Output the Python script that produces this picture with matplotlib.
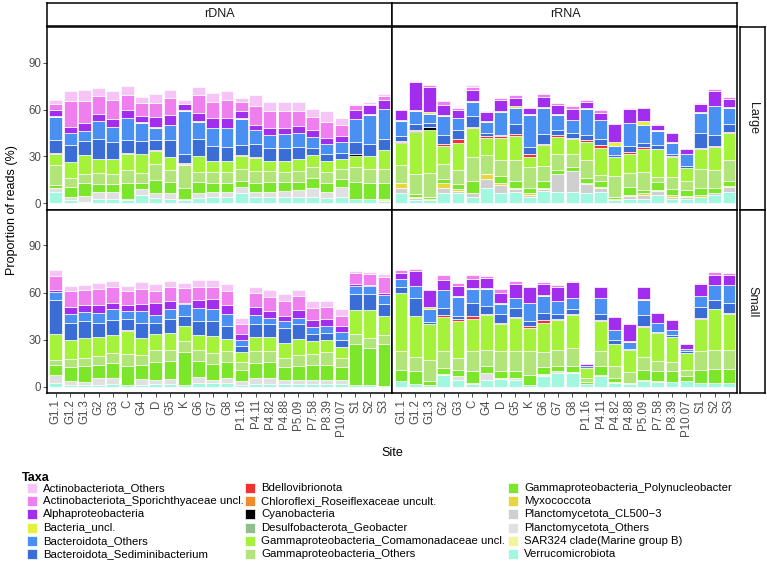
import numpy as np
import matplotlib.pyplot as plt
from matplotlib.patches import Rectangle

plt.rcParams['font.family'] = ['Liberation Sans', 'DejaVu Sans']

sites = ["G1.1", "G1.2", "G1.3", "G2", "G3", "C", "G4", "D", "G5", "K", "G6", "G7",
         "G8", "P1.16", "P4.11", "P4.82", "P4.88", "P5.09", "P7.58", "P8.39", "P10.07",
         "S1", "S2", "S3"]

# legend order (top of the stack first)
taxa = ["Actinobacteriota_Others", "Actinobacteriota_Sporichthyaceae uncl.",
        "Alphaproteobacteria", "Bacteria_uncl.", "Bacteroidota_Others",
        "Bacteroidota_Sediminibacterium", "Bdellovibrionota",
        "Chloroflexi_Roseiflexaceae uncult.", "Cyanobacteria", "Desulfobacterota_Geobacter",
        "Gammaproteobacteria_Comamonadaceae uncl.", "Gammaproteobacteria_Others",
        "Gammaproteobacteria_Polynucleobacter", "Myxococcota", "Planctomycetota_CL500\u22123",
        "Planctomycetota_Others", "SAR324 clade(Marine group B)", "Verrucomicrobiota"]

taxa_colors = ["#F6C4F6", "#EF7EEF", "#A22DEE", "#E2F23C", "#4A8FF2", "#3A6ED6",
               "#F23131", "#F08C2C", "#000000", "#8FBF8F", "#A4F23A", "#B1E57A",
               "#7BE62A", "#E9D63E", "#CFCFCF", "#E0E0E0", "#F1F59C", "#A2F7E0"]

# values in % of reads, per taxon, one value per site
dna_large = {
    "Verrucomicrobiota": [7.4, 2.1, 1.1, 2.8, 2.6, 2.1, 5.3, 3.2, 2.6, 2.1, 3.2, 4.3, 4.3, 6.8, 3.8, 3.8, 3.8, 3.8, 3.8, 3.2, 4.3, 2.8, 2.8, 1.7],
    "SAR324 clade(Marine group B)": [0] * 21 + [0.3, 0, 1.0],
    "Planctomycetota_Others": [2.2, 2.2, 3.6, 4.6, 4.6, 0.7, 3.6, 3.2, 3.8, 0.5, 3.6, 3.1, 3.1, 3.4, 3.6, 3.6, 4.3, 4.7, 6.2, 4.2, 5.9, 0, 0, 0],
    "Gammaproteobacteria_Polynucleobacter": [2.1, 6.3, 8.1, 4.9, 5.1, 10.0, 4.3, 8.5, 7.0, 7.0, 7.0, 5.4, 5.8, 4.1, 5.4, 6.0, 5.7, 4.9, 6.4, 5.8, 5.3, 10.7, 10.0, 10.5],
    "Gammaproteobacteria_Others": [12.8, 5.8, 6.3, 7.3, 6.8, 8.5, 6.4, 10.2, 7.9, 15.0, 6.4, 7.4, 7.0, 8.0, 8.1, 7.5, 6.4, 7.5, 7.0, 7.0, 6.8, 9.6, 9.5, 9.1],
    "Gammaproteobacteria_Comamonadaceae uncl.": [7.4, 10.2, 12.0, 8.5, 9.0, 10.6, 11.9, 8.5, 8.5, 0.5, 10.0, 7.0, 7.0, 8.3, 8.2, 6.3, 6.6, 7.2, 7.5, 6.6, 5.8, 7.2, 8.3, 11.7],
    "Cyanobacteria": [0] * 21 + [0.9, 0, 0],
    "Bdellovibrionota": [0.6, 0, 0, 0, 0, 0.4, 0, 0.4, 0, 0.9, 0, 0, 0, 0.3, 0.4, 0, 0, 0, 0, 0, 0, 0, 0, 0],
    "Bacteroidota_Sediminibacterium": [7.9, 10.6, 8.9, 13.0, 11.3, 8.1, 8.5, 6.4, 10.6, 5.3, 11.3, 9.4, 9.0, 6.3, 8.4, 8.5, 8.7, 8.1, 4.8, 5.1, 4.2, 7.9, 7.7, 7.5],
    "Bacteroidota_Others": [14.9, 7.7, 6.4, 11.7, 9.7, 14.5, 11.5, 8.1, 9.6, 27.8, 10.7, 11.9, 12.1, 17.0, 8.9, 7.9, 8.8, 8.5, 6.9, 6.0, 6.8, 14.4, 18.3, 19.1],
    "Bacteria_uncl.": [0.4, 0, 0, 0, 0, 0, 0.4, 0.4, 0, 0.5, 0.4, 0, 0, 0.4, 0, 0, 0, 0, 0, 0, 0, 0, 0.3, 0],
    "Alphaproteobacteria": [4.3, 4.0, 5.1, 4.6, 4.7, 4.7, 4.1, 6.4, 6.8, 3.8, 5.5, 5.8, 6.0, 4.2, 3.2, 4.7, 4.0, 4.7, 4.6, 4.0, 4.1, 5.8, 5.9, 5.4],
    "Actinobacteriota_Sporichthyaceae uncl.": [3.8, 16.4, 14.2, 11.1, 12.2, 9.8, 8.5, 8.6, 10.6, 0.4, 11.3, 10.6, 11.7, 5.8, 12.1, 10.8, 10.8, 9.7, 8.1, 10.2, 6.8, 3.2, 1.0, 2.5],
    "Actinobacteriota_Others": [2.2, 6.6, 6.6, 5.1, 5.7, 5.5, 3.6, 6.3, 5.4, 2.2, 5.1, 5.7, 5.7, 2.5, 7.0, 5.8, 5.6, 5.6, 5.1, 7.3, 4.9, 1.0, 1.3, 1.5],
}

rna_large = {
    "Verrucomicrobiota": [6.4, 2.1, 2.1, 6.8, 6.8, 4.3, 9.6, 6.4, 7.4, 4.3, 8.1, 7.4, 7.4, 6.4, 7.4, 2.1, 2.6, 2.6, 5.3, 2.6, 2.6, 4.3, 5.3, 7.4],
    "Planctomycetota_CL500\u22123": [3.2, 1.1, 0.3, 3.2, 1.3, 2.1, 5.7, 5.3, 2.0, 1.0, 1.0, 11.1, 13.5, 5.7, 2.2, 0, 2.1, 2.7, 2.6, 1.7, 1.2, 0, 1.5, 2.8],
    "Myxococcota": [3.2, 0.6, 0.6, 2.8, 0.9, 0, 3.4, 1.1, 0.6, 1.1, 0.9, 0.6, 0, 1.1, 0.6, 0.7, 0.6, 1.1, 0.6, 1.0, 0.9, 1.0, 0, 0.8],
    "Gammaproteobacteria_Polynucleobacter": [0.5, 2.2, 1.0, 2.5, 3.3, 7.9, 0, 4.6, 4.3, 3.2, 4.3, 2.2, 2.5, 3.2, 4.1, 1.0, 5.3, 2.1, 4.9, 3.6, 3.8, 4.7, 3.2, 3.3],
    "Gammaproteobacteria_Others": [11.2, 13.1, 15.5, 9.8, 9.0, 15.1, 12.2, 10.3, 13.4, 13.8, 9.7, 10.6, 8.5, 11.3, 3.8, 13.6, 9.0, 11.7, 3.6, 8.1, 5.8, 11.7, 11.3, 13.4],
    "Gammaproteobacteria_Comamonadaceae uncl.": [14.2, 26.4, 27.7, 11.5, 17.6, 18.7, 11.2, 14.4, 15.7, 6.4, 13.2, 10.7, 9.6, 11.7, 17.6, 12.0, 12.3, 14.3, 17.5, 12.8, 8.5, 13.0, 14.9, 17.0],
    "Cyanobacteria": [0.6, 0.6, 1.5] + [0] * 21,
    "Bdellovibrionota": [0.8, 0.6, 0, 1.1, 2.2, 0.8, 1.3, 0.9, 0.9, 2.1, 1.0, 1.0, 0.6, 1.0, 1.5, 0.4, 1.1, 1.7, 0.6, 0.6, 0, 0.8, 0.5, 1.0],
    "Bacteroidota_Sediminibacterium": [2.7, 3.9, 2.7, 5.9, 5.7, 6.8, 1.3, 0.6, 6.3, 4.3, 6.4, 3.2, 3.0, 3.6, 4.3, 1.1, 3.6, 2.5, 2.1, 0.9, 1.2, 9.2, 7.0, 4.9],
    "Bacteroidota_Others": [10.2, 8.3, 5.6, 12.4, 7.5, 9.0, 7.4, 14.9, 10.7, 20.2, 16.6, 9.6, 8.1, 16.2, 11.7, 5.7, 14.5, 11.3, 9.2, 7.4, 7.3, 13.2, 18.5, 10.7],
    "Bacteria_uncl.": [0.4, 1.1, 1.2, 0.3, 0.5, 0.6, 0.3, 0.6, 0.8, 1.0, 0.5, 0.6, 0.4, 0.6, 0.4, 2.8, 0.4, 2.6, 0.4, 0.6, 0.2, 0.4, 0.4, 0.5],
    "Alphaproteobacteria": [6.4, 17.7, 16.4, 6.5, 4.8, 7.5, 5.9, 6.9, 5.6, 3.9, 6.3, 5.8, 7.0, 4.1, 4.3, 11.2, 8.7, 8.7, 3.6, 5.4, 3.6, 5.5, 9.4, 5.2],
    "Actinobacteriota_Sporichthyaceae uncl.": [0, 0.6, 1.1, 2.5, 1.7, 1.6, 0.8, 1.7, 1.3, 0, 2.1, 1.7, 1.5, 1.1, 1.7, 0, 0.5, 0, 0.6, 0, 0, 0.4, 0.9, 1.1],
    "Actinobacteriota_Others": [0, 0.4, 0, 0, 0, 1.1] + [0] * 18,
}

dna_small = {
    "Verrucomicrobiota": [2.4, 1.3, 1.3, 1.3, 1.7, 1.3, 1.3, 1.7, 1.7, 1.3, 2.4, 2.4, 2.4, 1.3, 1.7, 1.7, 1.7, 1.7, 1.7, 1.7, 1.7, 1.3, 1.3, 0.6],
    "Planctomycetota_Others": [4.9, 2.5, 2.1, 4.3, 3.9, 0, 3.8, 2.8, 3.2, 0, 3.6, 2.1, 3.2, 2.6, 3.9, 3.9, 2.4, 2.8, 2.8, 2.8, 2.8, 0, 0, 0],
    "Gammaproteobacteria_Polynucleobacter": [6.4, 8.6, 9.6, 8.5, 9.6, 12.2, 9.0, 11.3, 11.8, 20.9, 10.7, 10.2, 10.2, 7.1, 9.6, 10.2, 8.5, 9.0, 9.6, 9.6, 7.9, 26.1, 23.5, 26.8],
    "Gammaproteobacteria_Others": [3.6, 5.5, 5.4, 5.3, 6.4, 7.4, 6.4, 7.9, 7.0, 6.9, 7.0, 6.9, 6.8, 4.9, 7.4, 6.8, 5.8, 7.0, 6.8, 8.1, 6.0, 6.4, 6.0, 5.9],
    "Gammaproteobacteria_Comamonadaceae uncl.": [16.5, 12.2, 12.8, 12.2, 11.7, 14.6, 10.7, 10.1, 10.7, 9.6, 9.2, 10.7, 8.0, 6.2, 9.0, 9.0, 9.6, 10.1, 8.2, 7.9, 6.8, 14.9, 17.9, 11.8],
    "Bdellovibrionota": [0, 0, 0, 0, 0, 0.4, 0, 0, 0, 0, 0.4] + [0] * 13,
    "Bacteroidota_Sediminibacterium": [21.3, 10.7, 10.7, 9.2, 9.0, 7.1, 9.6, 7.0, 8.5, 6.4, 8.6, 9.6, 8.1, 3.9, 8.1, 8.1, 9.2, 9.1, 4.7, 4.3, 4.9, 10.3, 10.3, 7.5],
    "Bacteroidota_Others": [5.4, 5.8, 5.7, 6.4, 7.1, 5.3, 7.5, 4.7, 6.9, 7.5, 8.1, 7.5, 7.9, 3.6, 6.0, 4.3, 4.7, 4.3, 4.2, 4.3, 4.7, 5.3, 5.3, 5.7],
    "Alphaproteobacteria": [1.0, 4.3, 4.3, 4.7, 4.2, 3.8, 4.7, 8.1, 4.9, 1.0, 5.1, 6.4, 5.3, 4.3, 5.2, 4.3, 3.2, 4.7, 4.3, 4.2, 3.9, 1.1, 0.6, 1.1],
    "Actinobacteriota_Sporichthyaceae uncl.": [9.2, 9.8, 9.6, 10.3, 9.6, 8.6, 9.2, 7.5, 8.5, 9.0, 8.6, 7.9, 8.8, 5.9, 8.5, 9.0, 9.6, 9.2, 8.1, 8.0, 6.4, 7.0, 6.9, 10.7],
    "Actinobacteriota_Others": [3.7, 3.6, 3.2, 3.8, 3.9, 3.6, 4.3, 4.3, 3.9, 3.2, 4.2, 4.2, 4.7, 3.7, 3.8, 4.2, 4.3, 3.6, 4.3, 3.8, 4.3, 1.5, 1.1, 1.7],
}

rna_small = {
    "Verrucomicrobiota": [3.8, 1.7, 1.3, 7.3, 4.5, 1.9, 4.5, 4.9, 4.5, 1.3, 6.6, 8.8, 8.8, 1.9, 6.6, 2.4, 1.7, 3.8, 3.4, 3.4, 3.6, 2.4, 2.4, 2.4],
    "Planctomycetota_Others": [0, 0, 0, 0, 2.1, 0, 4.3, 0, 1.1, 0, 1.1, 1.0, 0.6] + [0] * 11,
    "Myxococcota": [0, 0, 0, 0.8, 0, 0.5, 0, 0.7, 0, 0, 0.8, 0, 0, 0, 1.1, 0.6, 0.6, 0.7, 0.5, 0, 0.4, 0, 0, 0],
    "Gammaproteobacteria_Polynucleobacter": [7.1, 8.6, 2.5, 3.9, 4.3, 7.4, 4.2, 4.7, 4.7, 6.4, 4.1, 3.7, 3.6, 1.1, 5.3, 2.6, 0.3, 6.4, 6.0, 6.4, 3.1, 8.5, 9.1, 9.1],
    "Gammaproteobacteria_Others": [11.7, 8.5, 13.5, 10.6, 7.5, 12.8, 10.7, 12.3, 12.8, 15.4, 9.4, 10.2, 11.8, 2.6, 9.6, 7.4, 7.1, 7.9, 6.4, 6.0, 3.8, 11.7, 12.2, 12.2],
    "Gammaproteobacteria_Comamonadaceae uncl.": [36.8, 26.3, 22.9, 21.8, 23.5, 20.8, 22.0, 17.1, 20.9, 14.5, 18.8, 18.8, 20.9, 6.4, 19.3, 14.4, 13.5, 19.2, 17.8, 15.8, 10.7, 20.6, 25.7, 22.9],
    "Bdellovibrionota": [0, 0, 0, 1.1, 1.1, 1.7, 0.8, 0.7, 0.4, 1.1, 1.5, 0.9, 0.8, 0, 0.6, 0, 0, 0.7, 0, 0, 0, 0.8, 0, 0.6],
    "Bacteroidota_Sediminibacterium": [4.3, 11.3, 1.3, 4.9, 2.1, 8.5, 5.0, 5.8, 6.0, 3.2, 4.9, 3.2, 2.9, 0, 4.1, 2.1, 0.8, 6.8, 1.0, 1.1, 1.1, 7.1, 5.7, 6.4],
    "Bacteroidota_Others": [4.9, 7.9, 8.3, 11.1, 12.2, 8.6, 10.7, 6.8, 6.0, 11.3, 10.7, 7.7, 7.0, 1.0, 10.2, 6.4, 4.3, 9.8, 5.4, 3.6, 1.7, 6.4, 9.6, 11.1],
    "Bacteria_uncl.": [0, 0, 1.1, 0.4, 0.4, 0.4, 0.4, 0.4, 0.4, 0.4, 0.4, 0.4, 0.4, 0, 0, 0.4, 1.1, 0.4, 0.4, 0, 0, 0, 0, 0],
    "Alphaproteobacteria": [3.8, 9.6, 10.9, 6.0, 6.6, 6.0, 6.4, 6.6, 8.6, 10.1, 7.1, 8.9, 9.7, 1.7, 6.4, 8.4, 10.7, 7.5, 5.8, 6.0, 3.0, 7.9, 6.7, 6.5],
    "Actinobacteriota_Sporichthyaceae uncl.": [2.0, 1.1, 0, 3.3, 1.5, 2.8, 1.3, 2.2, 1.7, 0, 1.5, 1.5, 1.1, 0, 0, 0, 0, 0, 0, 0, 0, 0.6, 1.5, 1.0],
}

W, H = 767, 563
fig = plt.figure(figsize=(W / 100, H / 100), dpi=100)


def px_axes(x0, y0, x1, y1):
    return fig.add_axes([x0 / W, 1 - y1 / H, (x1 - x0) / W, (y1 - y0) / H])


col_x = [(47.3, 392.5), (392.5, 737.5)]
row_y = [(27, 209.5), (209.5, 393)]
panels = [[dna_large, rna_large], [dna_small, rna_small]]
col_names = ["rDNA", "rRNA"]
row_names = ["Large", "Small"]

x = np.arange(len(sites))
for r in range(2):
    for c in range(2):
        ax = px_axes(col_x[c][0], row_y[r][0], col_x[c][1], row_y[r][1])
        data = panels[r][c]
        bottom = np.zeros(len(sites))
        for name in reversed(taxa):
            vals = np.array(data.get(name, [0] * len(sites)), dtype=float)
            m = vals > 0
            if m.any():
                ax.bar(x[m], vals[m], 0.9, bottom=bottom[m],
                       color=taxa_colors[taxa.index(name)],
                       edgecolor='white', linewidth=0.5)
            bottom += vals
        ax.set_xlim(-0.6, len(sites) - 0.4)
        ax.set_ylim(-3.9, 112.8)
        for s in ax.spines.values():
            s.set_linewidth(1.1)
            s.set_color('black')
        ax.tick_params(length=3, width=0.6, color='#333333', pad=1.5,
                       labelsize=8.3, labelcolor='#4D4D4D')
        ax.set_yticks([0, 30, 60, 90])
        if c == 0:
            ax.set_yticklabels(['0', '30', '60', '90'])
        else:
            ax.tick_params(axis='y', left=False, labelleft=False)
        ax.set_xticks(x)
        if r == 1:
            ax.set_xticklabels(sites, rotation=90)
        else:
            ax.tick_params(axis='x', bottom=False, labelbottom=False)

# facet strips
for c in range(2):
    sa = px_axes(col_x[c][0], 3, col_x[c][1], 25.5)
    sa.set_xticks([])
    sa.set_yticks([])
    for s in sa.spines.values():
        s.set_linewidth(1.1)
    sa.text(0.5, 0.5, col_names[c], ha='center', va='center', fontsize=9,
            color='#1A1A1A', transform=sa.transAxes)
for r in range(2):
    sa = px_axes(740, row_y[r][0], 765, row_y[r][1])
    sa.set_xticks([])
    sa.set_yticks([])
    for s in sa.spines.values():
        s.set_linewidth(1.1)
    sa.text(0.5, 0.5, row_names[r], ha='center', va='center', fontsize=9,
            rotation=-90, color='#1A1A1A', transform=sa.transAxes)

fig.text(12 / W, 1 - 210 / H, 'Proportion of reads (%)', rotation=90,
         ha='center', va='center', fontsize=9)
fig.text(392.4 / W, 1 - 453 / H, 'Site', ha='center', va='center', fontsize=9)

# legend
fig.text(22 / W, 1 - 478 / H, 'Taxa', ha='left', va='center', fontsize=9,
         fontweight='bold')
sw_x = [27, 245, 508]
for i, name in enumerate(taxa):
    cc, rr = divmod(i, 6)
    yc = 488 + 13.2 * rr
    fig.add_artist(Rectangle((sw_x[cc] / W, 1 - (yc + 5) / H), 10 / W, 10 / H,
                             transform=fig.transFigure, facecolor=taxa_colors[i],
                             edgecolor='white', linewidth=0.5))
    fig.text((sw_x[cc] + 16) / W, 1 - yc / H, name, ha='left', va='center',
             fontsize=8.2)

fig.savefig('out.png', dpi=100)
